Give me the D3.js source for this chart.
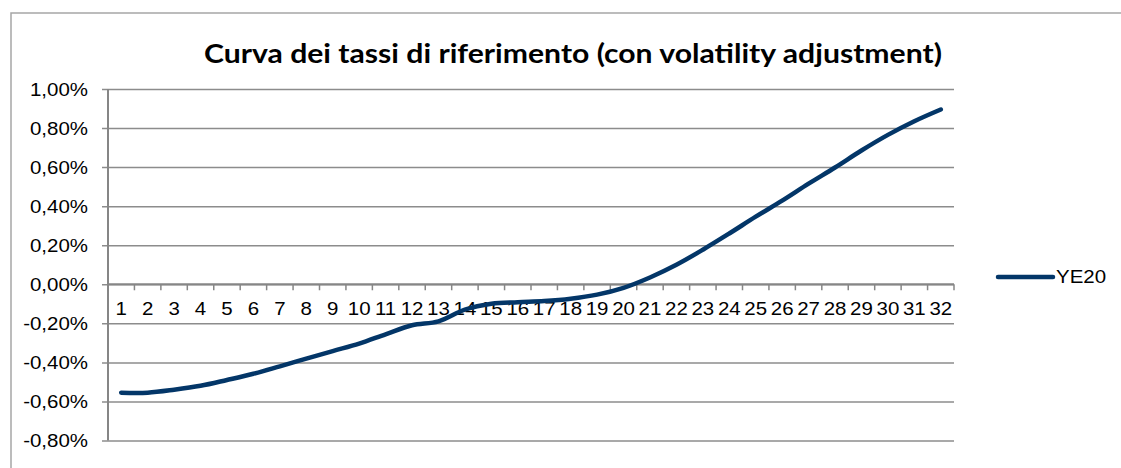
<!DOCTYPE html>
<html>
<head>
<meta charset="utf-8">
<script src="https://cdn.jsdelivr.net/npm/d3@7"></script>
<style>
  body { margin: 0; background: #fff; }
  text { font-family: "Liberation Sans", Arial, sans-serif; fill: #000; }
</style>
</head>
<body>
<div id="chart"></div>
<script>
// Chart data (values in percent)
const categories = d3.range(1, 33);
const seriesName = "YE20";
const ye20 = [
  -0.555, -0.555, -0.540, -0.520, -0.490, -0.458, -0.420, -0.381,
  -0.342, -0.304, -0.256, -0.210, -0.190, -0.130, -0.100, -0.092,
  -0.086, -0.074, -0.053, -0.018, 0.035, 0.100, 0.177, 0.260,
  0.346, 0.428, 0.515, 0.598, 0.685, 0.765, 0.835, 0.895
];
const yTicks = [-0.8, -0.6, -0.4, -0.2, 0, 0.2, 0.4, 0.6, 0.8, 1.0];
const chartTitle = "Curva dei tassi di riferimento (con volatility adjustment)";

const width = 1121;
const height = 468;
const plotLeft = 108, plotRight = 954, plotTop = 89, plotBottom = 440.5;
const lineColor = "#033668";
const gridColor = "#8c8c8c";
const sx = 1.17; // labels look horizontally stretched

const svg = d3.select("#chart").append("svg")
  .attr("width", width)
  .attr("height", height);

// Outer frame
svg.append("rect")
  .attr("x", 11).attr("y", 13)
  .attr("width", 1130).attr("height", 480)
  .attr("fill", "none")
  .attr("stroke", "#a6a6a6")
  .attr("stroke-width", 1.5);

// Title
svg.append("text")
  .attr("x", 573).attr("y", 63)
  .attr("text-anchor", "middle")
  .attr("textLength", 738)
  .attr("lengthAdjust", "spacingAndGlyphs")
  .style("font-family", "Lato, 'Open Sans', sans-serif")
  .style("font-weight", "bold")
  .style("font-size", "26px")
  .text(chartTitle);

// Scales
const x = d3.scaleBand().domain(categories).range([plotLeft, plotRight]).padding(0);
const y = d3.scaleLinear().domain([-0.8, 1.0]).range([plotBottom, plotTop]);
const fmt = v => d3.format(".2f")(v).replace(".", ",").replace("−", "-") + "%";

// Y gridlines + axis
const yAxis = d3.axisLeft(y)
  .tickValues(yTicks)
  .tickSize(-(plotRight - plotLeft))
  .tickSizeOuter(0)
  .tickPadding(0)
  .tickFormat(fmt);

const gy = svg.append("g")
  .attr("transform", `translate(${plotLeft},0)`)
  .call(yAxis);
gy.select(".domain").remove();
gy.selectAll(".tick line")
  .attr("x1", -6)
  .attr("stroke", gridColor)
  .attr("stroke-width", 1.5);
gy.selectAll(".tick text")
  .attr("x", 0)
  .attr("dy", "0.36em")
  .attr("transform", `translate(-20,0) scale(${sx},1)`)
  .style("font-size", "17.5px")
  .style("fill", "#000");

// Vertical axis line
svg.append("line")
  .attr("x1", plotLeft).attr("x2", plotLeft)
  .attr("y1", plotTop).attr("y2", plotBottom)
  .attr("stroke", "#868686")
  .attr("stroke-width", 2);

// X axis on the zero line, ticks at category boundaries
const gx = svg.append("g")
  .attr("transform", `translate(0,${y(0)})`);
gx.append("line")
  .attr("x1", plotLeft).attr("x2", plotRight)
  .attr("stroke", "#868686")
  .attr("stroke-width", 2);
gx.selectAll("line.tk")
  .data(categories.concat([33]))
  .enter().append("line")
  .attr("class", "tk")
  .attr("x1", d => d <= 32 ? x(d) : plotRight)
  .attr("x2", d => d <= 32 ? x(d) : plotRight)
  .attr("y1", 0).attr("y2", 6)
  .attr("stroke", "#868686")
  .attr("stroke-width", 1.5);
gx.selectAll("text")
  .data(categories)
  .enter().append("text")
  .attr("text-anchor", "middle")
  .attr("transform", d => `translate(${x(d) + x.bandwidth() / 2},31) scale(${sx},1)`)
  .style("font-size", "17.5px")
  .text(d => d);

// Series line
const line = d3.line()
  .x((d, i) => x(categories[i]) + x.bandwidth() / 2)
  .y(d => y(d))
  .curve(d3.curveCatmullRom.alpha(0.5));

svg.append("path")
  .datum(ye20)
  .attr("d", line)
  .attr("fill", "none")
  .attr("stroke", lineColor)
  .attr("stroke-width", 4.5)
  .attr("stroke-linecap", "round")
  .attr("stroke-linejoin", "round");

// Legend
const legend = svg.append("g").attr("transform", "translate(998,277)");
legend.append("line")
  .attr("x1", 0).attr("x2", 55)
  .attr("stroke", lineColor)
  .attr("stroke-width", 4.5)
  .attr("stroke-linecap", "round");
legend.append("text")
  .attr("transform", `translate(58,0) scale(${sx},1)`)
  .attr("dy", "0.36em")
  .style("font-size", "17.5px")
  .text(seriesName);
</script>
</body>
</html>
